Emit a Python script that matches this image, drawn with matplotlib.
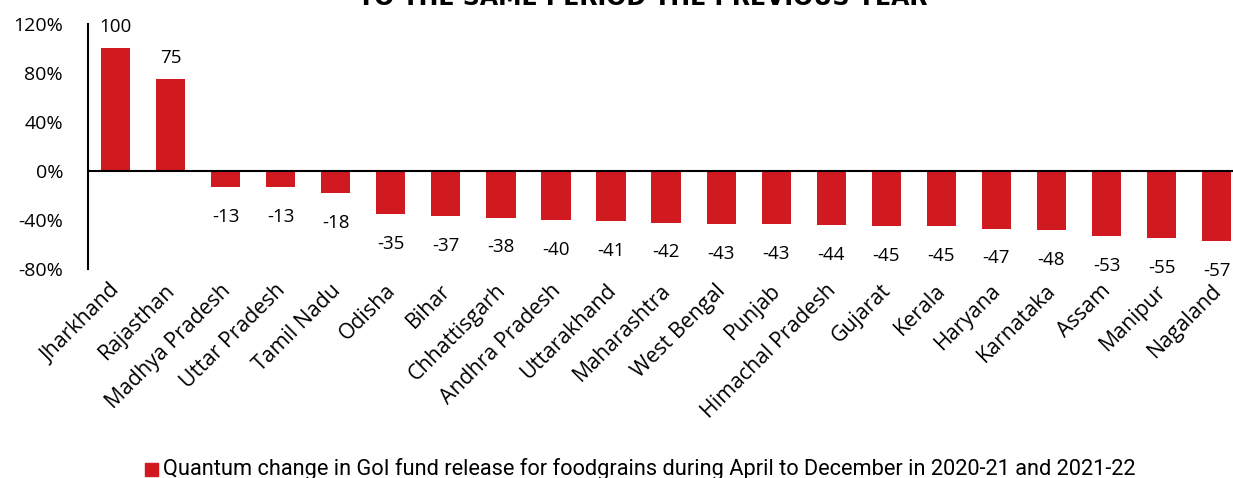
import matplotlib.pyplot as plt
import matplotlib.transforms as mtransforms
import numpy as np

states = ["Jharkhand", "Rajasthan", "Madhya Pradesh", "Uttar Pradesh", "Tamil Nadu",
          "Odisha", "Bihar", "Chhattisgarh", "Andhra Pradesh", "Uttarakhand",
          "Maharashtra", "West Bengal", "Punjab", "Himachal Pradesh", "Gujarat",
          "Kerala", "Haryana", "Karnataka", "Assam", "Manipur", "Nagaland"]
change = [100, 75, -13, -13, -18, -35, -37, -38, -40, -41, -42, -43, -43, -44,
          -45, -45, -47, -48, -53, -55, -57]
yticks = [-80, -40, 0, 40, 80, 120]

red = "#D11920"
plt.rcParams['font.family'] = ['Open Sans', 'DejaVu Sans']

fig = plt.figure(figsize=(12.33, 4.78), dpi=100)
ax = fig.add_axes([0.0714, 0.437, 0.9376, 0.513])

x = np.arange(len(states))
ax.bar(x, change, width=0.53, color=red, zorder=2)
ax.axhline(0, color="black", lw=1.5, zorder=3)

for xi, v in zip(x, change):
    if v >= 0:
        ax.annotate(str(v), (xi, v), xytext=(0, 9), textcoords="offset points",
                    ha="center", va="bottom", fontsize=13.5)
    else:
        ax.annotate(str(v), (xi, v), xytext=(0, -15), textcoords="offset points",
                    ha="center", va="top", fontsize=13.5)

ax.set_xlim(-0.5, len(states) - 0.5)
ax.set_ylim(-80, 120)
ax.set_yticks(yticks)
ax.set_yticklabels([f"{t}%" for t in yticks], fontsize=14)
ax.set_xticks(x)
ax.set_xticklabels(states, rotation=45, ha="right", fontsize=15.3)
ax.tick_params(axis="both", length=0)
ax.tick_params(axis="x", pad=10)
ax.tick_params(axis="y", pad=18)
shift = mtransforms.ScaledTranslation(9 / 100, 3 / 100, fig.dpi_scale_trans)
for lab in ax.get_xticklabels():
    lab.set_transform(lab.get_transform() + shift)

for s in ["top", "right", "bottom"]:
    ax.spines[s].set_visible(False)
ax.spines["left"].set_linewidth(1.5)

fig.text(0.521, 1.005, "TO THE SAME PERIOD THE PREVIOUS YEAR", ha="center", va="center",
         fontsize=17, fontweight="bold", family=["DejaVu Sans"])

fig.patches.append(plt.Rectangle((0.118, 0.005), 0.0105, 0.027, color=red,
                                 transform=fig.transFigure, figure=fig))
fig.text(0.132, 0.018, "Quantum change in GoI fund release for foodgrains during April to December in 2020-21 and 2021-22",
         ha="left", va="center", fontsize=15.7, family=["Roboto", "DejaVu Sans"])

fig.savefig("out.png", dpi=100)
